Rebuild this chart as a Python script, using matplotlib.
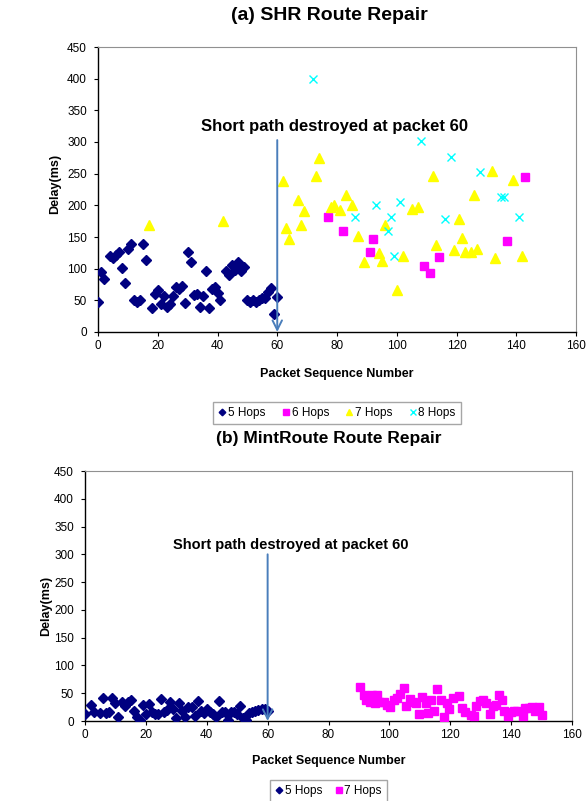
import matplotlib
matplotlib.use("Agg")
import matplotlib.pyplot as plt

plt.rcParams['font.family'] = ['Liberation Sans', 'DejaVu Sans']

# (a) SHR route repair
shr5_x = [0, 1, 2, 4, 5, 6, 7, 8, 9, 10, 11, 12, 13, 14, 15, 16, 18, 19, 20, 21, 22, 23, 24, 25,
          26, 27, 28, 29, 30, 31, 32, 33, 34, 35, 36, 37, 38, 39, 40, 41, 43, 44, 45, 46, 47, 48,
          49, 50, 51, 52, 53, 54, 55, 56, 57, 58, 59, 60]
shr5_y = [47, 94, 84, 120, 117, 122, 127, 101, 78, 131, 139, 51, 47, 51, 139, 113, 38, 60, 66, 44,
          57, 40, 44, 57, 71, 68, 73, 46, 126, 110, 58, 60, 40, 57, 96, 38, 68, 71, 62, 50, 96, 90,
          106, 98, 111, 97, 102, 51, 47, 51, 47, 51, 54, 53, 63, 69, 29, 55]
shr6_x = [77, 82, 91, 92, 109, 111, 114, 137, 143]
shr6_y = [182, 159, 127, 147, 105, 93, 119, 144, 245]
shr7_x = [17, 42, 62, 63, 64, 67, 68, 69, 73, 74, 78, 79, 81, 83, 85, 87, 89, 94, 95, 96,
          100, 102, 105, 107, 112, 113, 119, 121, 122, 123, 125, 126, 127, 132, 133, 139, 142]
shr7_y = [169, 176, 238, 164, 147, 208, 169, 191, 246, 275, 198, 200, 193, 217, 201, 151, 110, 125,
          112, 169, 67, 120, 194, 198, 246, 137, 129, 179, 148, 126, 126, 216, 131, 254, 117, 240, 120]
shr8_x = [72, 86, 93, 97, 98, 99, 101, 108, 116, 118, 128, 135, 136, 141]
shr8_y = [400, 182, 201, 160, 182, 120, 205, 302, 178, 277, 252, 213, 213, 182]

# (b) MintRoute route repair
mint5_x = [0, 2, 3, 5, 6, 7, 8, 9, 10, 11, 12, 13, 14, 15, 16, 17, 18, 19, 20, 21, 22, 23, 24,
           25, 26, 27, 28, 29, 30, 31, 32, 33, 34, 35, 36, 37, 38, 39, 40, 41, 42, 43, 44, 45,
           46, 47, 48, 49, 50, 51, 52, 53, 54, 55, 56, 57, 58, 59, 60]
mint5_y = [12.7, 28, 17, 14.5, 41, 14, 16, 41, 32, 8, 34, 26.5, 35, 37, 17.5, 7, 2.4, 28, 12, 31,
           16, 12.7, 12.7, 40, 16, 19, 34, 22, 5.4, 32, 17.5, 6.6, 26, 26, 8.4, 35.5, 18.7, 14,
           21.7, 17, 12.7, 8, 35.5, 15.7, 15.7, 2.4, 17, 15.7, 12.7, 27.7, 5.4, 1.8, 14, 15.7,
           18.7, 20.5, 21.7, 21.7, 18.7]
mint7_x = [90.5, 91.6, 92.4, 93.5, 94.3, 95.2, 96.0, 96.7, 98.1, 99.2, 100.3, 101.4, 102.5, 103.6,
           104.7, 105.6, 106.7, 107.7, 108.7, 109.7, 110.6, 111.9, 112.6, 113.7, 114.8, 115.8,
           116.8, 117.9, 118.8, 119.7, 120.8, 122.8, 123.9, 125.0, 126.7, 127.7, 128.6, 129.7,
           130.8, 131.9, 133.0, 134.0, 135.1, 136.0, 137.1, 137.8, 138.9, 139.8, 140.9, 142.0,
           144.0, 144.7, 145.8, 146.9, 148.0, 149.1, 150.2]
mint7_y = [61, 47, 37, 35, 47, 32, 46, 35, 34, 29, 25, 37, 41, 49, 59, 26.5, 40, 35, 32.5, 12,
           44, 32, 14.5, 38, 17.5, 58, 37, 7, 32, 21.7, 41, 44.6, 23, 15.7, 11, 9.6, 26.5, 35.5,
           37, 32, 12.7, 27.7, 29, 47, 38.5, 18.7, 8.4, 17, 18.7, 18.7, 9.6, 23, 23.5, 24.7,
           18.7, 24.7, 11]

NAVY = '#000080'
MAGENTA = '#FF00FF'
YELLOW = '#FFFF00'
CYAN = '#00FFFF'
ARROW = '#4a7ebb'
ANNOT = 'Short path destroyed at packet 60'

fig = plt.figure(figsize=(5.86, 8.01), dpi=100)
ax1 = fig.add_axes([98 / 586, 1 - 332 / 801, 478 / 586, 285 / 801])
ax2 = fig.add_axes([85 / 586, 1 - 721 / 801, 487 / 586, 250 / 801])


def style_axes(ax):
    ax.set_xlim(0, 160)
    ax.set_ylim(0, 450)
    ax.set_xticks(range(0, 161, 20))
    ax.set_yticks(range(0, 451, 50))
    ax.tick_params(labelsize=8.5, length=3, width=0.8, direction='out')
    ax.tick_params(axis='y', pad=5)
    ax.tick_params(axis='x', pad=3)
    ax.spines['left'].set_color('black')
    ax.spines['bottom'].set_color('black')
    ax.spines['left'].set_linewidth(1.0)
    ax.spines['bottom'].set_linewidth(1.0)
    for s in ('top', 'right'):
        ax.spines[s].set_color('#909090')
        ax.spines[s].set_linewidth(0.8)
    ax.set_xlabel('Packet Sequence Number', fontsize=9, fontweight='bold')
    ax.set_ylabel('Delay(ms)', fontsize=9, fontweight='bold')


def draw_arrow(ax, top):
    ax.annotate('', xy=(60, 0), xytext=(60, top), zorder=5,
                arrowprops=dict(arrowstyle='->', color=ARROW, lw=1.4, mutation_scale=17,
                                shrinkA=0, shrinkB=0))


# top chart
style_axes(ax1)
ax1.plot(shr5_x, shr5_y, 'D', color=NAVY, ms=4.8, mec=NAVY, label='5 Hops', zorder=3)
ax1.plot(shr6_x, shr6_y, 's', color=MAGENTA, ms=6.0, mec=MAGENTA, label='6 Hops', zorder=3)
ax1.plot(shr7_x, shr7_y, '^', color=YELLOW, ms=6.8, mec=YELLOW, label='7 Hops', zorder=3)
ax1.plot(shr8_x, shr8_y, 'x', color=CYAN, ms=5.5, mew=1.0, label='8 Hops', zorder=3)
draw_arrow(ax1, 303)
ax1.text(79.3, 324, ANNOT, ha='center', va='center', fontsize=12, fontweight='bold')
ax1.xaxis.set_label_coords(0.5, -0.125)
ax1.yaxis.set_label_coords(-0.078, 0.52)
ax1.legend(loc='center', bbox_to_anchor=(0.5, -0.284), ncol=4, fontsize=8.5, frameon=True,
           fancybox=False, edgecolor='#909090', handlelength=0.7, handletextpad=0.15,
           columnspacing=1.35, borderpad=0.45, markerscale=0.7)
fig.text(329 / 586, 1 - 16 / 801, '(a) SHR Route Repair', ha='center', va='center',
         fontsize=14, fontweight='bold')

# bottom chart
style_axes(ax2)
ax2.plot(mint5_x, mint5_y, 'D', color=NAVY, ms=4.8, mec=NAVY, label='5 Hops', zorder=3)
ax2.plot(mint7_x, mint7_y, 's', color=MAGENTA, ms=6.4, mec=MAGENTA, label='7 Hops', zorder=3)
draw_arrow(ax2, 300)
ax2.text(67.6, 316, ANNOT, ha='center', va='center', fontsize=10.5, fontweight='bold')
ax2.xaxis.set_label_coords(0.5, -0.135)
ax2.yaxis.set_label_coords(-0.068, 0.46)
ax2.legend(loc='center', bbox_to_anchor=(0.5, -0.28), ncol=2, fontsize=8.5, frameon=True,
           fancybox=False, edgecolor='#909090', handlelength=0.7, handletextpad=0.15,
           columnspacing=1.0, borderpad=0.45, markerscale=0.7)
fig.text(329 / 586, 1 - 438 / 801, '(b) MintRoute Route Repair', ha='center', va='center',
         fontsize=12.5, fontweight='bold')

fig.savefig('out.png', dpi=100)
